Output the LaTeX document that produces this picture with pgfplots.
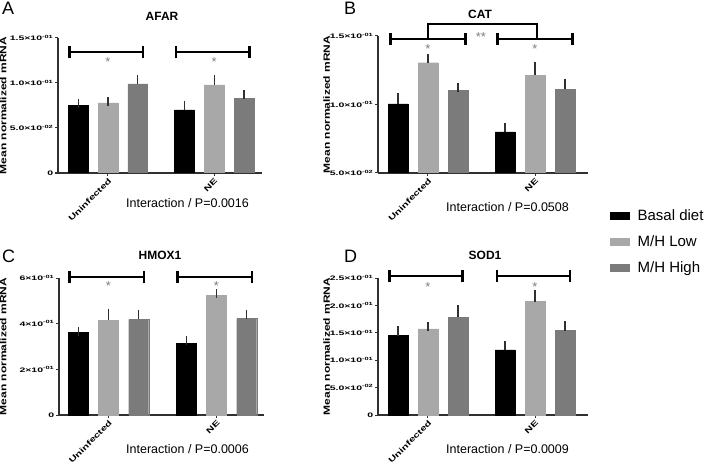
\documentclass[border=0pt]{standalone}
\usepackage{pgfplots}
\pgfplotsset{compat=1.18}
\usepackage{pgfplotstable}
\usepackage{graphicx}
\usepackage{fontspec}
\setmainfont{Liberation Sans}

\definecolor{lowc}{HTML}{A8A8A8}
\definecolor{highc}{HTML}{7B7B7B}
\definecolor{starc}{HTML}{808080}
\definecolor{axc}{HTML}{303030}

\newcommand{\sq}[1]{\scalebox{1}[0.62]{#1}}
\newcommand{\sci}[2]{\sq{#1×10\textsuperscript{#2}}}
\newcommand{\brk}[3]{%
  \draw[line width=1.8pt] (axis cs:#1,#3) -- (axis cs:#2,#3);
  \draw[line width=2.6pt] (axis cs:#1,#3) ++(0pt,-6pt) -- ++(0pt,12pt);
  \draw[line width=2.6pt] (axis cs:#2,#3) ++(0pt,-6pt) -- ++(0pt,12pt);}
\newcommand{\sigstar}[2]{\node[anchor=north, inner sep=0pt, text=starc, font=\fontsize{13}{13}\selectfont] at (axis cs:#1,#2) {*};}

\pgfplotstableread{
x basal basale low lowe high highe
0 0.075 0.002 0.078 0.001 0.099 0.005
1 0.070 0.005 0.098 0.006 0.083 0.004
}\tblA
\pgfplotstableread{
x basal basale low lowe high highe
0 0.1005 0.0045 0.1305 0.003 0.1105 0.002
1 0.080 0.003 0.1215 0.0065 0.111 0.0045
}\tblB
\pgfplotstableread{
x basal basale low lowe high highe
0 0.363 0.004 0.414 0.031 0.419 0.021
1 0.315 0.010 0.524 0.009 0.422 0.020
}\tblC
\pgfplotstableread{
x basal basale low lowe high highe
0 0.145 0.009 0.157 0.004 0.178 0.014
1 0.119 0.007 0.207 0.013 0.154 0.009
}\tblD

\pgfplotsset{
  panel/.style={
    scale only axis,
    anchor=south west,
    axis lines*=left,
    axis line style={line width=1.2pt, axc},
    ybar, bar width=0.185,
    clip mode=individual,
    xtick={0,1},
    xticklabels={\scalebox{1}[0.7]{Uninfected}, \scalebox{1}[0.7]{NE}},
    x tick label style={rotate=45, anchor=north east, font=\bfseries\fontsize{11}{11}\selectfont, inner sep=1pt},
    y tick label style={font=\bfseries\fontsize{10.5}{12}\selectfont, inner sep=1.5pt},
    tick style={line width=1pt, axc}, major tick length=3pt,
    tick align=outside,
    ylabel={\scalebox{1}[0.75]{Mean normalized mRNA}},
    ylabel style={font=\bfseries\fontsize{12}{12}\selectfont, inner sep=0pt, anchor=south},
    legend image code/.code={\fill[##1] (0pt,-3.5pt) rectangle (19pt,3.5pt);},
  },
  ylx/.style={ylabel style={at={(axis description cs:#1,0.5)}}},
  errst/.style={error bars/.cd, y dir=plus, y explicit, error bar style={line width=1.3pt, axc},
    error mark options={line width=1.3pt, mark size=4.5pt, axc}},
  basalp/.style={fill=black, draw=black, bar shift=-0.28, errst},
  lowp/.style={fill=lowc, draw=lowc, bar shift=0, errst},
  highp/.style={fill=highc, draw=highc, bar shift=0.28, errst},
}

\begin{document}
\begin{tikzpicture}
\path[use as bounding box] (0pt,0pt) rectangle (707pt,464pt);

% ---------- A ----------
\begin{axis}[panel, ylx=-0.252, at={(58pt,291pt)}, width=204pt, height=135pt,
  xmin=-0.47, xmax=1.45, ymin=0, ymax=0.15,
  ytick={0,0.05,0.1,0.15},
  yticklabels={\sq{0},\sci{5.0}{-02},\sci{1.0}{-01},\sci{1.5}{-01}}]
\addplot[basalp] table[x=x, y=basal, y error=basale] {\tblA};
\addplot[lowp] table[x=x, y=low, y error=lowe] {\tblA};
\addplot[highp] table[x=x, y=high, y error=highe] {\tblA};
\brk{-0.36}{0.33}{0.134}
\brk{0.64}{1.33}{0.134}
\sigstar{0}{0.1285}
\sigstar{1}{0.1285}
\end{axis}

% ---------- B ----------
\begin{axis}[panel, ylx=-0.228, at={(378pt,291pt)}, width=210pt, height=137pt,
  xmin=-0.467, xmax=1.495, ymin=0.05, ymax=0.15,
  ytick={0.05,0.1,0.15},
  yticklabels={\sci{5.0}{-02},\sci{1.0}{-01},\sci{1.5}{-01}}]
\addplot[basalp] table[x=x, y=basal, y error=basale] {\tblB};
\addplot[lowp] table[x=x, y=low, y error=lowe] {\tblB};
\addplot[highp] table[x=x, y=high, y error=highe] {\tblB};
\brk{-0.35}{0.35}{0.148}
\brk{0.65}{1.35}{0.148}
\draw[line width=1.5pt] (axis cs:0,0.148) -- (axis cs:0,0.1587) -- (axis cs:1.02,0.1587) -- (axis cs:1.02,0.148);
\sigstar{0}{0.1442}
\sigstar{1}{0.1442}
\node[anchor=north, inner sep=0pt, text=starc, font=\fontsize{13}{13}\selectfont] at (axis cs:0.495,0.1529) {**};
\end{axis}

% ---------- C ----------
\begin{axis}[panel, ylx=-0.255, at={(59pt,49pt)}, width=205pt, height=137pt,
  xmin=-0.458, xmax=1.44, ymin=0, ymax=0.6,
  ytick={0,0.2,0.4,0.6},
  yticklabels={\sq{0},\sci{2}{-01},\sci{4}{-01},\sci{6}{-01}}]
\addplot[basalp] table[x=x, y=basal, y error=basale] {\tblC};
\addplot[lowp] table[x=x, y=low, y error=lowe] {\tblC};
\addplot[highp] table[x=x, y=high, y error=highe] {\tblC};
\brk{-0.36}{0.33}{0.603}
\brk{0.64}{1.33}{0.603}
\sigstar{0}{0.584}
\sigstar{1}{0.584}
\end{axis}

% ---------- D ----------
\begin{axis}[panel, ylx=-0.228, at={(378pt,49pt)}, width=210pt, height=137pt,
  xmin=-0.467, xmax=1.495, ymin=0, ymax=0.25,
  ytick={0,0.05,0.1,0.15,0.2,0.25},
  yticklabels={\sq{0},\sci{5.0}{-02},\sci{1.0}{-01},\sci{1.5}{-01},\sci{2.0}{-01},\sci{2.5}{-01}},
  legend style={at={(1.105,1.515)}, anchor=north west, draw=none, fill=none,
    font=\fontsize{15}{17}\selectfont, row sep=9.5pt, inner sep=0pt,
    /tikz/every odd column/.append style={column sep=6pt}},
  legend cell align=left]
\addplot[basalp] table[x=x, y=basal, y error=basale] {\tblD};
\addplot[lowp] table[x=x, y=low, y error=lowe] {\tblD};
\addplot[highp] table[x=x, y=high, y error=highe] {\tblD};
\legend{Basal diet, M/H Low, M/H High}
\brk{-0.36}{0.32}{0.253}
\brk{0.645}{1.327}{0.253}
\sigstar{0}{0.242}
\sigstar{1}{0.242}
\end{axis}

% ---------- texts ----------
\node[anchor=north west, inner sep=0pt, font=\fontsize{18}{18}\selectfont] at (2pt,462pt) {A};
\node[anchor=north west, inner sep=0pt, font=\fontsize{18}{18}\selectfont] at (344pt,462pt) {B};
\node[anchor=north west, inner sep=0pt, font=\fontsize{18}{18}\selectfont] at (2pt,214pt) {C};
\node[anchor=north west, inner sep=0pt, font=\fontsize{18}{18}\selectfont] at (344pt,214pt) {D};

\node[anchor=base, inner sep=0pt, font=\bfseries\fontsize{12}{12}\selectfont] at (162pt,443.3pt) {AFAR};
\node[anchor=base, inner sep=0pt, font=\bfseries\fontsize{12}{12}\selectfont] at (480pt,445pt) {CAT};
\node[anchor=base, inner sep=0pt, font=\bfseries\fontsize{12}{12}\selectfont] at (160pt,204pt) {HMOX1};
\node[anchor=base, inner sep=0pt, font=\bfseries\fontsize{12}{12}\selectfont] at (485pt,204pt) {SOD1};

\node[anchor=base west, inner sep=0pt, font=\fontsize{12.5}{13}\selectfont] at (126pt,256pt) {Interaction / P=0.0016};
\node[anchor=base west, inner sep=0pt, font=\fontsize{12.5}{13}\selectfont] at (446pt,252pt) {Interaction / P=0.0508};
\node[anchor=base west, inner sep=0pt, font=\fontsize{12.5}{13}\selectfont] at (126pt,11pt) {Interaction / P=0.0006};
\node[anchor=base west, inner sep=0pt, font=\fontsize{12.5}{13}\selectfont] at (446pt,11pt) {Interaction / P=0.0009};
\end{tikzpicture}
\end{document}
